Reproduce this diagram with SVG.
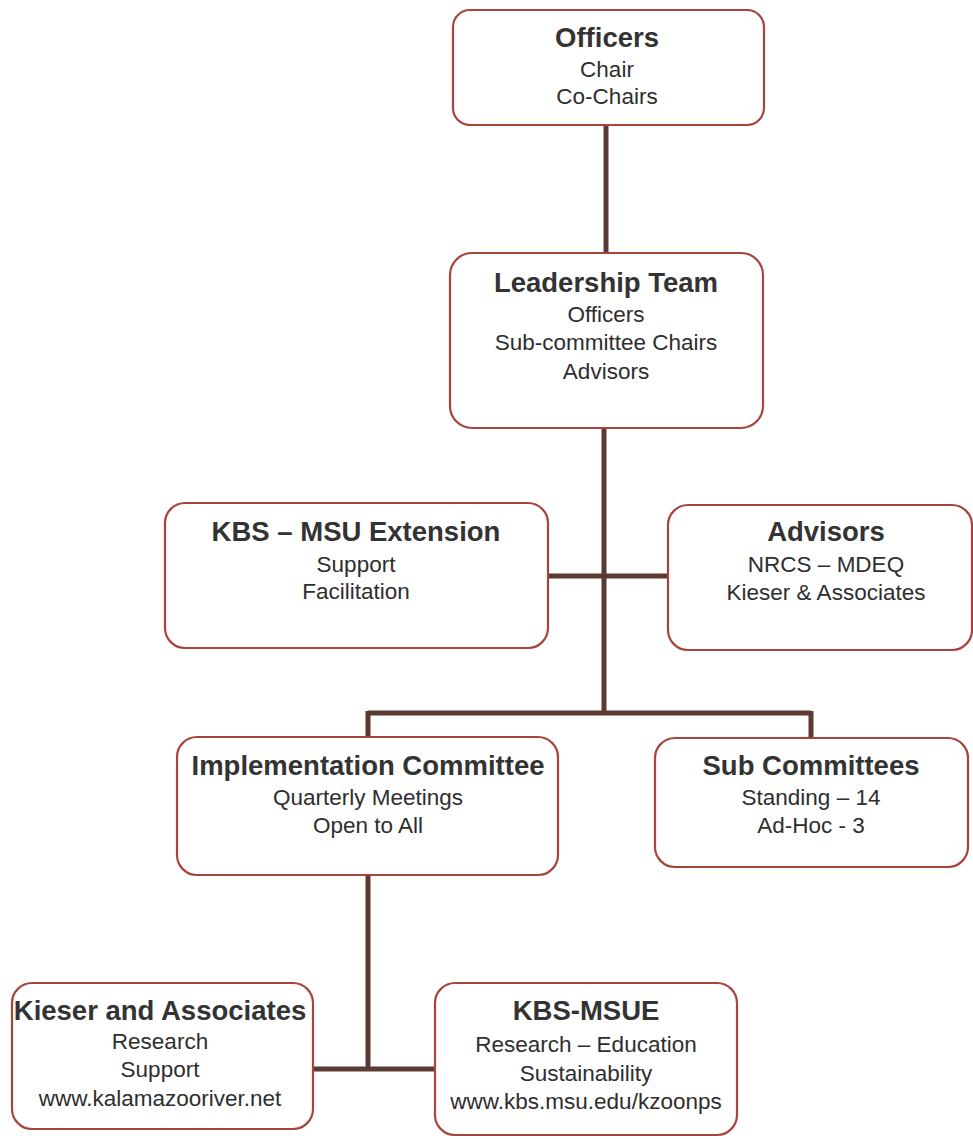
<svg xmlns="http://www.w3.org/2000/svg" width="973" height="1139" viewBox="0 0 973 1139">
  <style>
    .box { fill: #ffffff; stroke: #a8443c; stroke-width: 2.2; }
    .link { fill: none; stroke: #5b3a33; stroke-width: 5; stroke-linecap: butt; }
    .title { font-family: "Liberation Sans", Arial, sans-serif; font-weight: bold; font-size: 27.5px; fill: #333333; text-anchor: middle; }
    .body { font-family: "Liberation Sans", Arial, sans-serif; font-size: 22.5px; fill: #2e2e2e; text-anchor: middle; }
  </style>
  <rect width="973" height="1139" fill="#ffffff"/>

  <!-- connectors -->
  <g id="connectors">
    <path class="link" d="M606 125 V253"/>
    <path class="link" d="M604 428 V714"/>
    <path class="link" d="M548 576 H668"/>
    <path class="link" d="M368 713 H811"/>
    <path class="link" d="M368 711 V737"/>
    <path class="link" d="M811 711 V738"/>
    <path class="link" d="M368 875 V1070"/>
    <path class="link" d="M313 1069 H435"/>
  </g>

  <g id="officers">
    <rect class="box" x="453" y="10" width="311" height="115" rx="17"/>
    <text class="title" x="607" y="47">Officers</text>
    <text class="body" x="607" y="77">Chair</text>
    <text class="body" x="607" y="104">Co-Chairs</text>
  </g>

  <g id="leadership-team">
    <rect class="box" x="450" y="253" width="313" height="175" rx="22"/>
    <text class="title" x="606" y="292">Leadership Team</text>
    <text class="body" x="606" y="322">Officers</text>
    <text class="body" x="606" y="350">Sub-committee Chairs</text>
    <text class="body" x="606" y="379">Advisors</text>
  </g>

  <g id="kbs-msu-extension">
    <rect class="box" x="165" y="503" width="383" height="145" rx="20"/>
    <text class="title" x="356" y="541">KBS – MSU Extension</text>
    <text class="body" x="356" y="572">Support</text>
    <text class="body" x="356" y="599">Facilitation</text>
  </g>

  <g id="advisors">
    <rect class="box" x="668" y="505" width="304" height="145" rx="20"/>
    <text class="title" x="826" y="541">Advisors</text>
    <text class="body" x="826" y="572">NRCS – MDEQ</text>
    <text class="body" x="826" y="600">Kieser &amp; Associates</text>
  </g>

  <g id="implementation-committee">
    <rect class="box" x="177" y="737" width="381" height="138" rx="20"/>
    <text class="title" x="368" y="775">Implementation Committee</text>
    <text class="body" x="368" y="805">Quarterly Meetings</text>
    <text class="body" x="368" y="833">Open to All</text>
  </g>

  <g id="sub-committees">
    <rect class="box" x="655" y="738" width="313" height="129" rx="20"/>
    <text class="title" x="811" y="775">Sub Committees</text>
    <text class="body" x="811" y="805">Standing – 14</text>
    <text class="body" x="811" y="833">Ad-Hoc - 3</text>
  </g>

  <g id="kieser-and-associates">
    <rect class="box" x="12" y="983" width="301" height="146" rx="20"/>
    <text class="title" x="160" y="1020">Kieser and Associates</text>
    <text class="body" x="160" y="1049">Research</text>
    <text class="body" x="160" y="1077">Support</text>
    <text class="body" x="160" y="1106">www.kalamazooriver.net</text>
  </g>

  <g id="kbs-msue">
    <rect class="box" x="435" y="983" width="302" height="152" rx="20"/>
    <text class="title" x="586" y="1020">KBS-MSUE</text>
    <text class="body" x="586" y="1052">Research – Education</text>
    <text class="body" x="586" y="1081">Sustainability</text>
    <text class="body" x="586" y="1109">www.kbs.msu.edu/kzoonps</text>
  </g>
</svg>
